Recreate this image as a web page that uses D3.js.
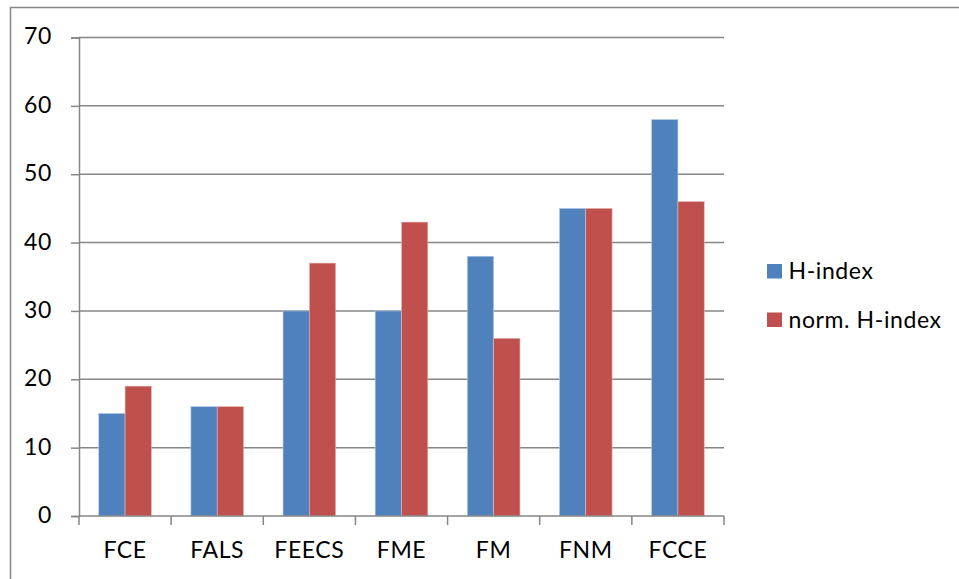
<!DOCTYPE html>
<html>
<head>
    <script src="https://cdnjs.cloudflare.com/ajax/libs/d3/7.8.5/d3.min.js"></script>
    <style>
        body { margin: 0; padding: 0; background: white; }
        svg { display: block; font-family: Lato, "Open Sans", sans-serif; }
        text { letter-spacing: 0.6px; }
    </style>
</head>
<body>
    <svg id="chart" width="959" height="579"></svg>
    <script>
        // data
        const categories = ['FCE', 'FALS', 'FEECS', 'FME', 'FM', 'FNM', 'FCCE'];
        const hIndex = [15, 16, 30, 30, 38, 45, 58];
        const normHIndex = [19, 16, 37, 43, 26, 45, 46];
        const seriesNames = ['H-index', 'norm. H-index'];
        const yTicks = [0, 10, 20, 30, 40, 50, 60, 70];

        const colors = ['#4F81BD', '#C0504D'];
        const fontSize = 23;
        const svg = d3.select('#chart');

        // outer chart border
        svg.append('rect')
            .attr('x', 10.5).attr('y', 7.5)
            .attr('width', 960).attr('height', 580)
            .attr('fill', 'none')
            .attr('stroke', '#868686')
            .attr('stroke-width', 1.5);

        const plotLeft = 79, plotRight = 724, plotTop = 37.5, plotBottom = 516;

        const x = d3.scaleBand()
            .domain(categories)
            .range([plotLeft, plotRight])
            .paddingInner(0)
            .paddingOuter(0);

        const y = d3.scaleLinear()
            .domain([0, 70])
            .range([plotBottom, plotTop]);

        // gridlines
        svg.append('g')
            .selectAll('line')
            .data(yTicks.filter(d => d > 0))
            .join('line')
            .attr('x1', plotLeft).attr('x2', plotRight)
            .attr('y1', d => y(d)).attr('y2', d => y(d))
            .attr('stroke', '#868686')
            .attr('stroke-width', 1.5);

        // bars
        const band = x.bandwidth();
        const barW = band / (2 + 1.5);
        const series = [hIndex, normHIndex];
        series.forEach((vals, si) => {
            svg.append('g')
                .selectAll('rect')
                .data(vals)
                .join('rect')
                .attr('x', (d, i) => x(categories[i]) + barW * 0.75 + si * barW)
                .attr('y', d => y(d))
                .attr('width', barW)
                .attr('height', d => y(0) - y(d))
                .attr('fill', colors[si])
                .attr('stroke', si === 0 ? '#b9cde5' : '#e6b9b8')
                .attr('stroke-width', 0.6);
        });

        // y axis
        const yAxis = svg.append('g')
            .attr('transform', `translate(${plotLeft},0)`)
            .call(d3.axisLeft(y).tickValues(yTicks).tickSize(8).tickPadding(19));
        yAxis.select('.domain').attr('stroke', '#868686').attr('stroke-width', 1.5);
        yAxis.selectAll('.tick line').attr('stroke', '#868686').attr('stroke-width', 1.5);
        yAxis.selectAll('.tick text')
            .attr('font-size', fontSize).attr('fill', '#000')
            .attr('dy', '0.28em')
            .attr('font-family', 'Lato, "Open Sans", sans-serif');

        // x axis
        const xAxis = svg.append('g')
            .attr('transform', `translate(0,${plotBottom})`)
            .call(d3.axisBottom(x).tickSize(0).tickPadding(27));
        xAxis.select('.domain').remove();
        xAxis.append('line')
            .attr('x1', plotLeft).attr('x2', plotRight)
            .attr('stroke', '#868686').attr('stroke-width', 1.5);
        xAxis.selectAll('.xt')
            .data(d3.range(categories.length + 1))
            .join('line')
            .attr('class', 'xt')
            .attr('x1', i => plotLeft + i * band).attr('x2', i => plotLeft + i * band)
            .attr('y1', 0).attr('y2', 9)
            .attr('stroke', '#868686').attr('stroke-width', 1.5);
        xAxis.selectAll('.tick text')
            .attr('font-size', fontSize).attr('fill', '#000')
            .attr('dy', '0.65em')
            .attr('font-family', 'Lato, "Open Sans", sans-serif');

        // legend
        const legend = svg.append('g').attr('transform', 'translate(767,264)');
        seriesNames.forEach((name, i) => {
            const g = legend.append('g').attr('transform', `translate(0,${i * 48.5})`);
            g.append('rect').attr('width', 15).attr('height', 14.5).attr('fill', colors[i]);
            g.append('text')
                .attr('x', 21.5).attr('y', 15)
                .attr('font-size', fontSize)
                .text(name);
        });
    </script>
</body>
</html>
